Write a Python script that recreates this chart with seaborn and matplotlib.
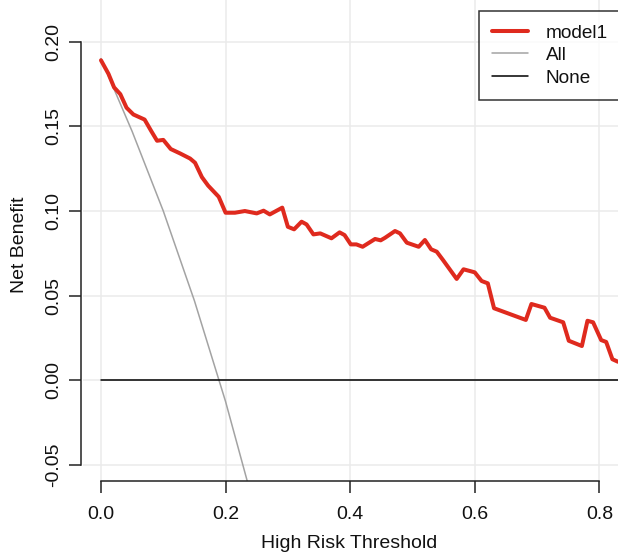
import seaborn as sns
import numpy as np
import pandas as pd
import matplotlib
matplotlib.use("Agg")
import matplotlib.pyplot as plt

# threshold / net benefit
thr_model = [0.000, 0.012, 0.021, 0.031, 0.041, 0.052, 0.070, 0.081, 0.090, 0.100,
             0.112, 0.127, 0.143, 0.151, 0.162, 0.172, 0.189, 0.200, 0.215, 0.231,
             0.250, 0.261, 0.271, 0.291, 0.300, 0.310, 0.322, 0.330, 0.341, 0.352,
             0.370, 0.383, 0.391, 0.401, 0.410, 0.420, 0.440, 0.449, 0.456, 0.472,
             0.480, 0.491, 0.510, 0.520, 0.530, 0.539, 0.549, 0.571, 0.582, 0.600,
             0.611, 0.621, 0.631, 0.682, 0.691, 0.712, 0.721, 0.742, 0.751, 0.772,
             0.781, 0.790, 0.803, 0.811, 0.821, 0.830]
nb_model = [0.189, 0.181, 0.173, 0.169, 0.161, 0.157, 0.154, 0.147, 0.1415, 0.142,
            0.1366, 0.134, 0.131, 0.1285, 0.120, 0.115, 0.1084, 0.099, 0.099, 0.100,
            0.0986, 0.1002, 0.098, 0.102, 0.0907, 0.0892, 0.0937, 0.0921, 0.0862, 0.0868,
            0.0839, 0.0874, 0.0858, 0.0803, 0.0803, 0.0789, 0.0835, 0.0827, 0.0842, 0.0882,
            0.0868, 0.0813, 0.0789, 0.0829, 0.0774, 0.076, 0.0711, 0.0599, 0.0656, 0.0638,
            0.0587, 0.0573, 0.0426, 0.0357, 0.0451, 0.0429, 0.037, 0.0343, 0.0234, 0.0203,
            0.0352, 0.0343, 0.0238, 0.0227, 0.0125, 0.011]

thr_all = [0.00, 0.05, 0.10, 0.15, 0.20, 0.25]
nb_all = [0.190, 0.147, 0.100, 0.047, -0.0125, -0.080]

thr_none = [0.0, 0.9]
nb_none = [0.0, 0.0]

xticks = [0.0, 0.2, 0.4, 0.6, 0.8]
yticks = [-0.05, 0.00, 0.05, 0.10, 0.15, 0.20]
xticklabels = ["0.0", "0.2", "0.4", "0.6", "0.8"]
yticklabels = ["-0.05", "0.00", "0.05", "0.10", "0.15", "0.20"]

sns.set_style("white")
plt.rcParams['font.family'] = ['Liberation Sans', 'DejaVu Sans']
FS = 14
LFS = 13.7

W, H = 618, 553
fig = plt.figure(figsize=(W / 100, H / 100), dpi=100)
# plot region in pixels: left 83, right 618, bottom 481, top 0
ax = fig.add_axes([83 / W, (H - 481) / H, (W - 83) / W, 481 / H])

df_model = pd.DataFrame({"thr": thr_model, "nb": nb_model})
df_all = pd.DataFrame({"thr": thr_all, "nb": nb_all})
df_none = pd.DataFrame({"thr": thr_none, "nb": nb_none})

sns.lineplot(data=df_all, x="thr", y="nb", color="#A3A3A3", lw=1.1, ax=ax, label="All")
sns.lineplot(data=df_none, x="thr", y="nb", color="black", lw=1.1, ax=ax, label="None")
sns.lineplot(data=df_model, x="thr", y="nb", color="#DF2A1E", lw=2.9, ax=ax, label="model1")

ax.set_xlim(-0.0289, 0.830)
ax.set_ylim(-0.0594, 0.2246)
ax.grid(True, color="#EBEBEB", lw=1.1)
ax.set_axisbelow(True)

for s in ["top", "right"]:
    ax.spines[s].set_visible(False)
ax.spines["left"].set_bounds(-0.05, 0.20)
ax.spines["bottom"].set_bounds(0.0, 0.8)
ax.spines["left"].set_position(("outward", 1.5))
for s in ["left", "bottom"]:
    ax.spines[s].set_color("#222222")
    ax.spines[s].set_linewidth(1.1)

ax.tick_params(axis="both", direction="out", length=8.5, width=1.1, color="#222222",
               labelsize=FS, labelcolor="#111111", left=True, bottom=True)
ax.tick_params(axis="x", pad=9.5)
ax.tick_params(axis="y", pad=5, labelrotation=90)

ax.set_xticks(xticks)
ax.set_yticks(yticks)
ax.set_xticklabels(xticklabels, fontsize=FS)
ax.set_yticklabels(yticklabels, fontsize=FS, rotation=90, va="center")

ax.set_xlabel("High Risk Threshold", fontsize=FS, color="#111111")
ax.set_ylabel("Net Benefit", fontsize=FS, color="#111111")
ax.xaxis.set_label_coords((349 - 83) / 535, (481 - 543) / 481)
ax.yaxis.set_label_coords((19.5 - 83) / 535, (481 - 245) / 481)
ax.xaxis.label.set_va("center")
ax.yaxis.label.set_va("center")

handles, labels = ax.get_legend_handles_labels()
order = [labels.index("model1"), labels.index("All"), labels.index("None")]
leg = ax.legend([handles[i] for i in order], [labels[i] for i in order],
                loc="upper left", bbox_to_anchor=(479 / W, 0, 0.3, 1 - 11 / H),
                bbox_transform=fig.transFigure, mode="expand",
                frameon=True, fancybox=False, edgecolor="black", fontsize=LFS,
                handlelength=1.9, handletextpad=0.9, borderpad=0.7,
                labelspacing=0.27, borderaxespad=0)
leg.get_frame().set_linewidth(1.1)
for t in leg.get_texts():
    t.set_color("#111111")

fig.savefig("out.png", dpi=100)
